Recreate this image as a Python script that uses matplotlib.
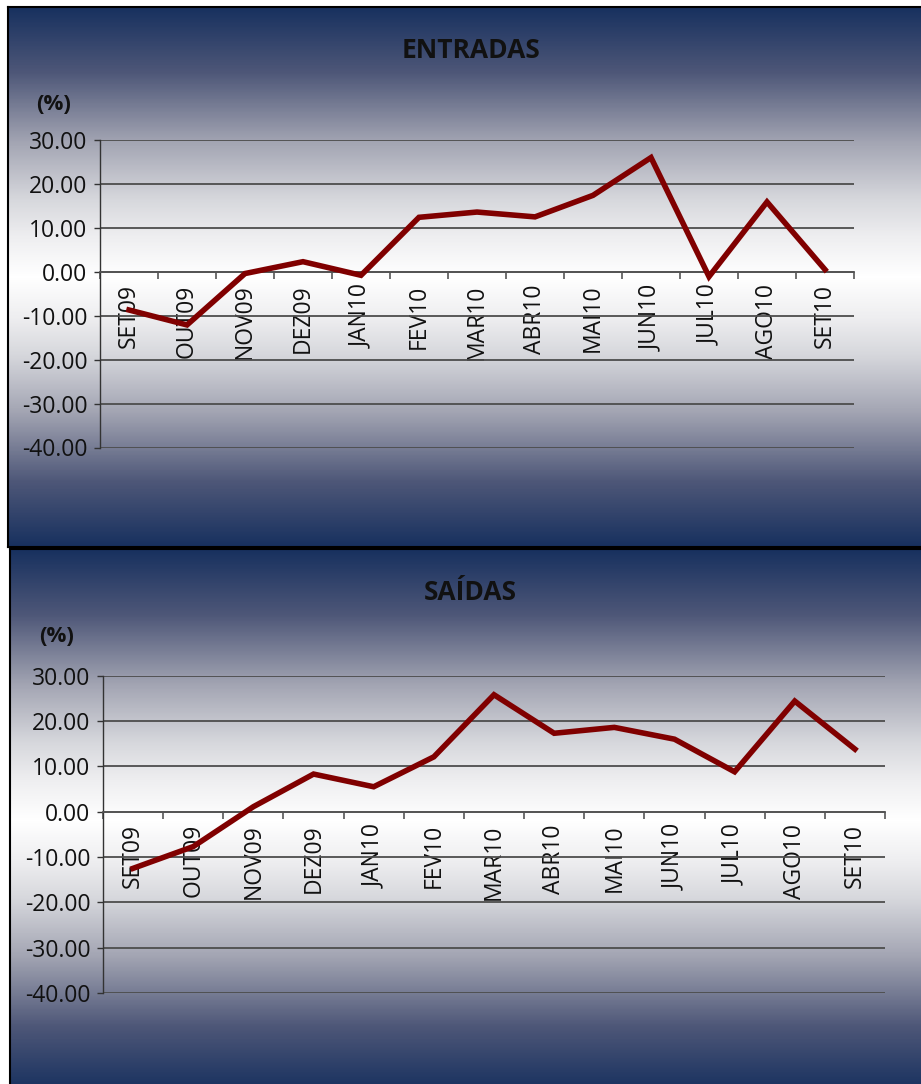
import numpy as np
import matplotlib
matplotlib.use("Agg")
import matplotlib.pyplot as plt
from matplotlib.colors import LinearSegmentedColormap

plt.rcParams["font.family"] = ["Open Sans", "DejaVu Sans"]
plt.rcParams["axes.unicode_minus"] = False

months = ["SET09", "OUT09", "NOV09", "DEZ09", "JAN10", "FEV10", "MAR10",
          "ABR10", "MAI10", "JUN10", "JUL10", "AGO10", "SET10"]
entradas = [-8.7, -12.1, -0.4, 2.3, -0.8, 12.4, 13.6,
            12.5, 17.4, 26.0, -1.1, 15.9, 0.5]
saidas = [-12.5, -7.7, 1.1, 8.3, 5.5, 12.1, 25.8,
          17.3, 18.6, 16.0, 8.8, 24.4, 13.8]
y_ticks = [30, 20, 10, 0, -10, -20, -30, -40]

W, H = 921, 1084

# navy -> grey -> white (edge to centre of panel)
grad_cmap = LinearSegmentedColormap.from_list(
    "panel",
    [(0.0, "#18315f"), (0.24, "#4e5778"), (0.5, "#a3a5b3"),
     (0.71, "#d6d7dc"), (0.85, "#eeeef0"), (1.0, "#ffffff")])


def px_rect(x0, y0, x1, y1):
    # pixel box (top-left origin) -> figure fraction rect
    return [x0 / W, 1 - y1 / H, (x1 - x0) / W, (y1 - y0) / H]


def draw_panel(fig, box):
    bg = fig.add_axes(px_rect(*box))
    s = np.linspace(0, 1, 400)
    t = 1 - np.abs(2 * s - 1)
    bg.imshow(t[:, None], cmap=grad_cmap, aspect="auto",
              extent=[0, 1, 0, 1], vmin=0, vmax=1)
    bg.set_xticks([])
    bg.set_yticks([])
    for sp in bg.spines.values():
        sp.set_color("black")
        sp.set_linewidth(1.5)
    return bg


def draw_chart(fig, box, values, title, title_xy, pct_xy):
    ax = fig.add_axes(px_rect(*box))
    ax.patch.set_alpha(0)
    # spine position first: it resets the ticks
    ax.spines["top"].set_visible(False)
    ax.spines["right"].set_visible(False)
    ax.spines["bottom"].set_position(("data", 0))
    ax.spines["bottom"].set_color("#555555")
    ax.spines["bottom"].set_linewidth(1.3)
    ax.spines["left"].set_color("#333333")
    ax.spines["left"].set_linewidth(1)

    x = np.arange(len(months)) + 0.5
    ax.plot(x, values, color="#800000", linewidth=4,
            solid_joinstyle="miter", zorder=5)
    ax.set_xlim(0, len(months))
    ax.set_ylim(-40, 30)
    ax.set_yticks(y_ticks)
    ax.yaxis.set_major_formatter(matplotlib.ticker.FormatStrFormatter("%.2f"))
    ax.tick_params(axis="y", direction="out", length=4, width=1,
                   color="#333333", labelsize=16.5, pad=5,
                   labelcolor="#111111")
    ax.yaxis.grid(True, color="#4d4d4d", linewidth=1.3)
    ax.set_axisbelow(True)

    ax.set_xticks(np.arange(len(months) + 1))
    ax.set_xticklabels([])
    ax.set_xticks(x, minor=True)
    ax.set_xticklabels(months, minor=True, rotation=90, fontsize=16.5,
                       va="top", ha="center", color="#111111")
    ax.tick_params(axis="x", which="major", direction="out", length=5,
                   width=1.2, color="#555555")
    ax.tick_params(axis="x", which="minor", length=0, pad=9)

    fig.text(title_xy[0] / W, 1 - title_xy[1] / H, title, ha="center",
             va="center", fontsize=19, fontweight="bold", color="#111111")
    fig.text(pct_xy[0] / W, 1 - pct_xy[1] / H, "(%)", ha="center",
             va="center", fontsize=16, fontweight="bold", color="#111111")
    return ax


def main():
    fig = plt.figure(figsize=(W / 100, H / 100), dpi=100)
    fig.patch.set_facecolor("white")

    draw_panel(fig, (8, 7, 930, 547))
    draw_panel(fig, (10, 549, 930, 1092))

    draw_chart(fig, (100, 140, 854, 447.5), entradas, "ENTRADAS",
               (471, 50), (54, 104))
    draw_chart(fig, (103, 675.7, 885, 993), saidas, "SAÍDAS",
               (470, 593), (57, 636))

    fig.savefig("out.png", dpi=100)


if __name__ == "__main__":
    main()
